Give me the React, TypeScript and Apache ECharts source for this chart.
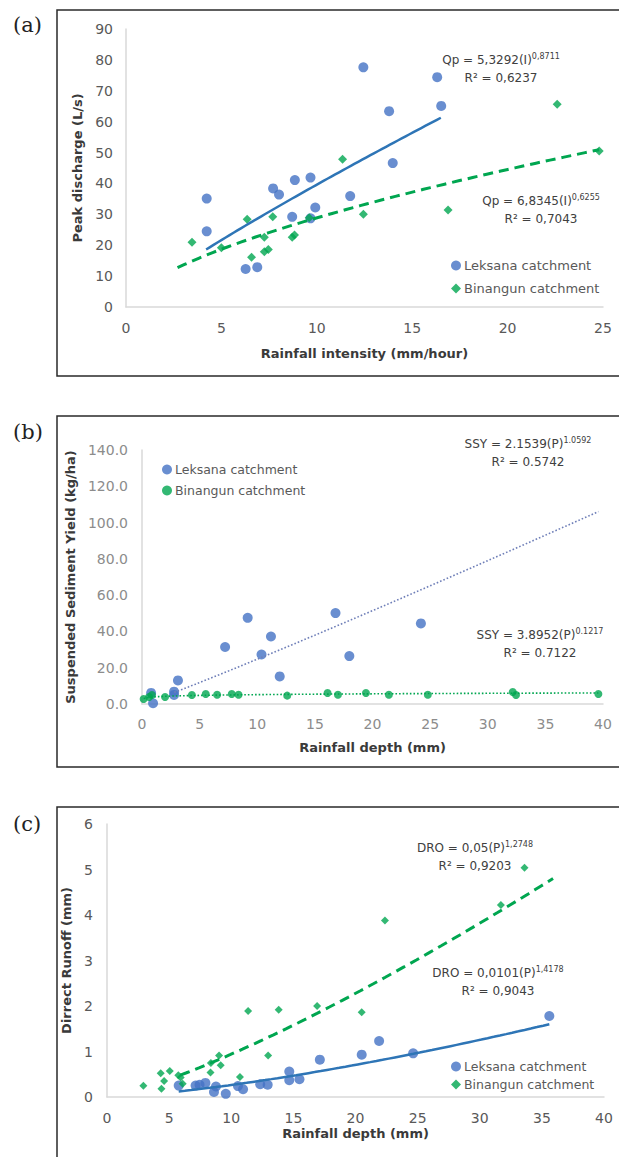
import React, { useEffect, useRef } from "react";
import * as echarts from "echarts";

// ---------- Panel (a): Peak discharge vs rainfall intensity ----------
const leksanaA: number[][] = [
  [4.23, 35.1], [4.23, 24.5], [6.27, 12.3], [6.88, 12.9], [7.71, 38.4], [8.02, 36.4],
  [8.71, 29.2], [8.85, 41.1], [9.67, 41.9], [9.67, 28.7], [9.92, 32.2], [11.75, 35.9],
  [12.44, 77.6], [13.79, 63.4], [13.98, 46.6], [16.31, 74.4], [16.52, 65.1],
];
const binangunA: number[][] = [
  [3.46, 21.0], [5.0, 19.2], [6.35, 28.4], [6.58, 16.1], [7.25, 22.6], [7.25, 17.9],
  [7.46, 18.6], [7.69, 29.2], [8.71, 22.6], [8.83, 23.3], [9.6, 28.9], [11.35, 47.8],
  [12.44, 30.0], [16.88, 31.4], [22.6, 65.6], [24.8, 50.5],
];
// trend equations shown on the chart: y = a * x^b, drawn over [from, to]
const trendLekA = { a: 5.3292, b: 0.8711, from: 4.2, to: 16.5 };
const trendBinA = { a: 6.8345, b: 0.6255, from: 2.7, to: 24.8 };

// ---------- Panel (b): Suspended sediment yield vs rainfall depth ----------
const leksanaB: number[][] = [
  [0.79, 6.1], [0.96, 0.4], [2.78, 6.8], [2.78, 5.0], [3.12, 13.0], [7.21, 31.4],
  [9.17, 47.5], [10.37, 27.3], [11.19, 37.2], [11.95, 15.2], [16.79, 50.1],
  [17.99, 26.4], [24.2, 44.4],
];
const binangunB: number[][] = [
  [0.14, 2.8], [0.62, 3.9], [0.86, 5.0], [2.0, 3.9], [4.33, 5.0], [5.53, 5.5],
  [6.52, 5.1], [7.79, 5.5], [8.38, 5.1], [12.6, 4.6], [16.1, 6.1], [17.0, 5.1],
  [19.43, 6.1], [21.42, 5.1], [24.8, 5.1], [32.17, 6.6], [32.45, 5.0], [39.6, 5.5],
];
const trendLekB = { a: 2.1539, b: 1.0592, from: 2.8, to: 39.6 };
const trendBinB = { a: 3.8952, b: 0.1217, from: 0.14, to: 39.6 };

// ---------- Panel (c): Direct runoff vs rainfall depth ----------
const leksanaC: number[][] = [
  [5.77, 0.25], [7.13, 0.25], [7.45, 0.27], [7.92, 0.31], [8.61, 0.11], [8.77, 0.23],
  [9.56, 0.07], [10.54, 0.24], [10.95, 0.17], [12.33, 0.28], [12.93, 0.27],
  [14.67, 0.56], [14.67, 0.37], [15.49, 0.39], [17.13, 0.82], [20.5, 0.93],
  [21.9, 1.23], [24.64, 0.96], [35.6, 1.78],
];
const binangunC: number[][] = [
  [2.93, 0.25], [4.32, 0.52], [4.38, 0.18], [4.6, 0.35], [5.05, 0.57], [5.74, 0.48],
  [5.93, 0.43], [6.09, 0.29], [8.33, 0.54], [8.36, 0.75], [9.02, 0.91], [9.15, 0.7],
  [10.7, 0.44], [11.36, 1.89], [12.97, 0.91], [13.82, 1.92], [16.91, 2.0],
  [20.5, 1.86], [22.37, 3.88], [31.7, 4.22], [33.6, 5.04],
];
const trendLekC = { a: 0.0101, b: 1.4178, from: 5.77, to: 35.6 };
const trendBinC = { a: 0.05, b: 1.2748, from: 5.9, to: 35.9 };

const LEK = "Leksana catchment";
const BIN = "Binangun catchment";

const BLUE = "#4472c4";
const GREEN = "#00a650";
const FONT = "'DejaVu Sans', sans-serif";
const SERIF = "'DejaVu Serif', serif";
const TXT = "#404040";

function powerCurve(t: { a: number; b: number; from: number; to: number }) {
  const pts: number[][] = [];
  const n = 60;
  for (let i = 0; i <= n; i++) {
    const x = t.from + ((t.to - t.from) * i) / n;
    pts.push([x, t.a * Math.pow(x, t.b)]);
  }
  return pts;
}

function axisBase(name: string, gap: number, labelColor: string, margin: number) {
  return {
    type: "value" as const,
    name,
    nameLocation: "middle" as const,
    nameGap: gap,
    nameTextStyle: { fontFamily: FONT, fontWeight: "bold", fontSize: 13, color: "#3a3a3a" },
    axisLine: { show: true, lineStyle: { color: "#d9d9d9", width: 1.5 } },
    axisTick: { show: false },
    splitLine: { show: false },
    axisLabel: { fontFamily: FONT, fontSize: 14, color: labelColor, margin },
  };
}

function eqText(x: number, y: number, main: string, sup: string, r2: string) {
  return [
    {
      type: "text",
      x,
      y,
      style: {
        text: `{m|${main}}{s|${sup}}`,
        align: "center",
        verticalAlign: "middle",
        rich: {
          m: { fontFamily: FONT, fontSize: 12, fill: TXT },
          s: { fontFamily: FONT, fontSize: 8, fill: TXT, verticalAlign: "top", padding: [0, 0, 7, 0] },
        },
      },
    },
    {
      type: "text",
      x,
      y: y + 18,
      style: {
        text: r2,
        align: "center",
        verticalAlign: "middle",
        fontFamily: FONT,
        fontSize: 12,
        fill: TXT,
      },
    },
  ];
}

function legendAt(left: number, top: number, gap: number, binIcon: string, size: number) {
  return {
    left, top, padding: 0, orient: "vertical", itemWidth: 10, itemHeight: 10, itemGap: gap,
    textStyle: { fontFamily: FONT, fontSize: size, color: "#595959", padding: [0, 0, 0, -2] },
    data: [{ name: LEK, icon: "circle" }, { name: BIN, icon: binIcon }],
    selectedMode: false,
  };
}

export default function App() {
  const ref = useRef<HTMLDivElement>(null);

  useEffect(() => {
    if (!ref.current) return;
    const chart = echarts.init(ref.current, undefined, { renderer: "svg" });

    const boxStyle = { fill: "none", stroke: "#2a2a2a", lineWidth: 1.5 };

    const option: any = {
      animation: false,
      backgroundColor: "#ffffff",
      grid: [
        { left: 126, top: 29, width: 477, height: 278 },
        { left: 142, top: 450, width: 461, height: 254 },
        { left: 107, top: 824, width: 497, height: 273 },
      ],
      xAxis: [
        { ...axisBase("Rainfall intensity (mm/hour)", 40, "#595959", 14), gridIndex: 0, min: 0, max: 25, interval: 5 },
        { ...axisBase("Rainfall depth (mm)", 37, "#8c8c8c", 13), gridIndex: 1, min: 0, max: 40, interval: 5 },
        { ...axisBase("Rainfall depth (mm)", 30, "#595959", 14), gridIndex: 2, min: 0, max: 40, interval: 5 },
      ],
      yAxis: [
        { ...axisBase("Peak discharge (L/s)", 36, "#595959", 13), gridIndex: 0, min: 0, max: 90, interval: 10 },
        {
          ...axisBase("Suspended Sediment Yield (kg/ha)", 54, "#8c8c8c", 14),
          gridIndex: 1, min: 0, max: 140, interval: 20,
          axisLabel: { fontFamily: FONT, fontSize: 14, color: "#8c8c8c", margin: 14, formatter: (v: number) => v.toFixed(1) },
        },
        { ...axisBase("Dirrect Runoff (mm)", 28, "#595959", 14), gridIndex: 2, min: 0, max: 6, interval: 1 },
      ],
      legend: [
        legendAt(451, 259, 10, "diamond", 13),
        legendAt(162, 463, 8, "circle", 12.5),
        legendAt(451, 1060, 5, "diamond", 12.5),
      ],
      series: [
        // (a)
        { name: LEK, type: "scatter", xAxisIndex: 0, yAxisIndex: 0, data: leksanaA, symbol: "circle", symbolSize: 10, itemStyle: { color: BLUE } },
        { name: BIN, type: "scatter", xAxisIndex: 0, yAxisIndex: 0, data: binangunA, symbol: "diamond", symbolSize: 9, itemStyle: { color: GREEN } },
        { name: "trendLekA", type: "line", xAxisIndex: 0, yAxisIndex: 0, data: powerCurve(trendLekA), showSymbol: false, lineStyle: { color: "#2e75b6", width: 2.5 } },
        { name: "trendBinA", type: "line", xAxisIndex: 0, yAxisIndex: 0, data: powerCurve(trendBinA), showSymbol: false, lineStyle: { color: GREEN, width: 3, type: [10, 6] } },
        // (b)
        { name: LEK, type: "scatter", xAxisIndex: 1, yAxisIndex: 1, data: leksanaB, symbol: "circle", symbolSize: 10, itemStyle: { color: BLUE } },
        { name: BIN, type: "scatter", xAxisIndex: 1, yAxisIndex: 1, data: binangunB, symbol: "circle", symbolSize: 8, itemStyle: { color: GREEN } },
        { name: "trendLekB", type: "line", xAxisIndex: 1, yAxisIndex: 1, data: powerCurve(trendLekB), showSymbol: false, lineStyle: { color: "#6f7fb8", width: 1.6, type: [1.6, 2] } },
        { name: "trendBinB", type: "line", xAxisIndex: 1, yAxisIndex: 1, data: powerCurve(trendBinB), showSymbol: false, lineStyle: { color: GREEN, width: 1.6, type: [1.6, 2] } },
        // (c)
        { name: LEK, type: "scatter", xAxisIndex: 2, yAxisIndex: 2, data: leksanaC, symbol: "circle", symbolSize: 10, itemStyle: { color: BLUE } },
        { name: BIN, type: "scatter", xAxisIndex: 2, yAxisIndex: 2, data: binangunC, symbol: "diamond", symbolSize: 8, itemStyle: { color: GREEN } },
        { name: "trendLekC", type: "line", xAxisIndex: 2, yAxisIndex: 2, data: powerCurve(trendLekC), showSymbol: false, lineStyle: { color: "#2e75b6", width: 2.5 } },
        { name: "trendBinC", type: "line", xAxisIndex: 2, yAxisIndex: 2, data: powerCurve(trendBinC), showSymbol: false, lineStyle: { color: GREEN, width: 3, type: [10, 6] } },
      ],
      graphic: [
        { type: "rect", shape: { x: 57, y: 10, width: 620, height: 366 }, style: boxStyle, silent: true },
        { type: "rect", shape: { x: 57, y: 416, width: 620, height: 351 }, style: boxStyle, silent: true },
        { type: "rect", shape: { x: 57, y: 807, width: 620, height: 400 }, style: boxStyle, silent: true },
        { type: "text", x: 13, y: 25, style: { text: "(a)", fontFamily: SERIF, fontSize: 21, fill: "#222", verticalAlign: "middle" } },
        { type: "text", x: 13, y: 432, style: { text: "(b)", fontFamily: SERIF, fontSize: 21, fill: "#222", verticalAlign: "middle" } },
        { type: "text", x: 13, y: 824, style: { text: "(c)", fontFamily: SERIF, fontSize: 21, fill: "#222", verticalAlign: "middle" } },
        ...eqText(501, 60, "Qp = 5,3292(I)", "0,8711", "R² = 0,6237"),
        ...eqText(541, 201, "Qp = 6,8345(I)", "0,6255", "R² = 0,7043"),
        ...eqText(528, 444, "SSY = 2.1539(P)", "1.0592", "R² = 0.5742"),
        ...eqText(540, 635, "SSY = 3.8952(P)", "0.1217", "R² = 0.7122"),
        ...eqText(475, 848, "DRO = 0,05(P)", "1,2748", "R² = 0,9203"),
        ...eqText(498, 973, "DRO = 0,0101(P)", "1,4178", "R² = 0,9043"),
      ],
    };

    chart.setOption(option);
    return () => chart.dispose();
  }, []);

  return (
    <div
      ref={ref}
      style={{ position: "absolute", left: 0, top: 0, width: 619, height: 1157 }}
    />
  );
}
